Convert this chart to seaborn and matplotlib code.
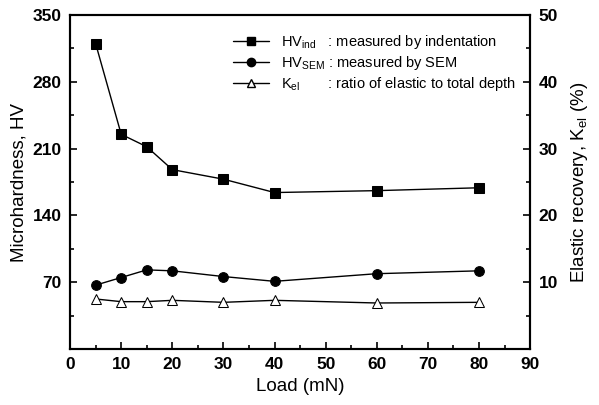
import matplotlib
matplotlib.use("Agg")
import matplotlib.pyplot as plt
import seaborn as sns
from matplotlib.ticker import MultipleLocator, FixedLocator
from matplotlib.lines import Line2D

load = [5, 10, 15, 20, 30, 40, 60, 80]
hv_ind = [320, 225, 212, 188, 178, 164, 166, 169]
hv_sem = [67, 75, 83, 82, 76, 71, 79, 82]
k_el = [7.5, 7.1, 7.1, 7.3, 7.0, 7.3, 6.9, 7.0]

hv_ticks = [70, 140, 210, 280, 350]
k_ticks = [10, 20, 30, 40, 50]

sns.set_style("ticks")
plt.rcParams["font.family"] = ["Liberation Sans", "DejaVu Sans"]
plt.rcParams["mathtext.fontset"] = "custom"
plt.rcParams["mathtext.rm"] = "Liberation Sans"
plt.rcParams["text.color"] = "black"
plt.rcParams["axes.labelcolor"] = "black"
plt.rcParams["xtick.color"] = "black"
plt.rcParams["ytick.color"] = "black"
plt.rcParams["axes.edgecolor"] = "black"

fig = plt.figure(figsize=(5.99, 4.05), dpi=100)
ax = fig.add_axes([0.117, 0.138, 0.768, 0.825])
ax2 = ax.twinx()

sns.lineplot(x=load, y=hv_ind, ax=ax, color="black", marker="s", markersize=7,
             linewidth=1, markeredgecolor="black")
sns.lineplot(x=load, y=hv_sem, ax=ax, color="black", marker="o", markersize=7,
             linewidth=1, markeredgecolor="black")
sns.lineplot(x=load, y=k_el, ax=ax2, color="black", marker="^", markersize=7,
             linewidth=1, markerfacecolor="white", markeredgecolor="black")

ax.set_xlim(0, 90)
ax.set_ylim(0, 350)
ax2.set_ylim(0, 50)
ax.xaxis.set_major_locator(MultipleLocator(10))
ax.xaxis.set_minor_locator(MultipleLocator(5))
ax.yaxis.set_major_locator(FixedLocator(hv_ticks))
ax.yaxis.set_minor_locator(MultipleLocator(35))
ax2.yaxis.set_major_locator(FixedLocator(k_ticks))
ax2.yaxis.set_minor_locator(MultipleLocator(5))

for a in (ax, ax2):
    a.tick_params(which="both", direction="in", width=1.2, labelsize=12.5, pad=6)
    a.tick_params(which="major", length=5)
    a.tick_params(which="minor", length=3)
    for s in a.spines.values():
        s.set_linewidth(1.5)
    for lab in a.get_xticklabels() + a.get_yticklabels():
        lab.set_fontweight("bold")
ax.tick_params(axis="y", right=False)
ax2.tick_params(axis="y", left=False)

ax.set_xlabel("Load (mN)", fontsize=13.5)
ax.set_ylabel("Microhardness, HV", fontsize=13.5)
ax2.set_ylabel(r"Elastic recovery, K$_{\mathrm{el}}$ (%)", fontsize=13.5, labelpad=8)

handles = [
    Line2D([], [], color="black", lw=1, marker="s", markersize=6),
    Line2D([], [], color="black", lw=1, marker="o", markersize=6),
    Line2D([], [], color="black", lw=1, marker="^", markersize=6,
           markerfacecolor="white"),
]
labels = [
    r"HV$_{\mathrm{ind}}$   : measured by indentation",
    r"HV$_{\mathrm{SEM}}$ : measured by SEM",
    r"K$_{\mathrm{el}}$       : ratio of elastic to total depth",
]
ax.legend(handles, labels, loc="upper right", frameon=False, fontsize=10.5,
          handlelength=2.5, borderaxespad=0.6, labelspacing=0.2,
          bbox_to_anchor=(1.0, 0.99))

fig.savefig("out.png", dpi=100)
